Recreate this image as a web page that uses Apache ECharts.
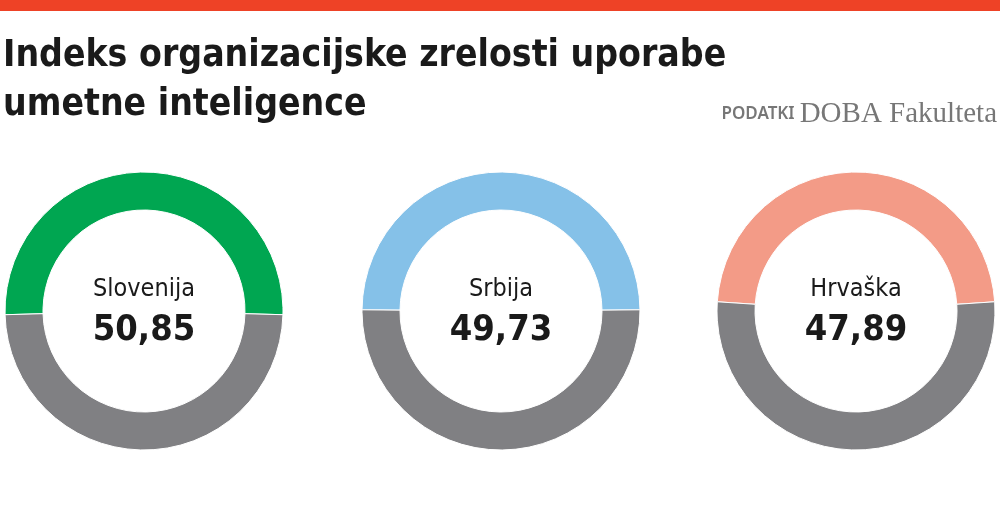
<!DOCTYPE html>
<html>
<head>
<meta charset="utf-8">
<script src="https://cdn.jsdelivr.net/npm/echarts@6/dist/echarts.min.js"></script>
<style>
  html, body { margin: 0; padding: 0; background: #fff; }
  #chart { width: 1000px; height: 520px; }
</style>
</head>
<body>
<div id="chart"></div>
<script>
const countries = ['Slovenija', 'Srbija', 'Hrvaška']
const values = [50.85, 49.73, 47.89]
const colors = ['#00a651', '#85c1e8', '#f39b87']
const centersX = [144, 501, 856]

const narrow = "'Liberation Sans Narrow', 'DejaVu Sans Condensed', sans-serif"

const chart = echarts.init(document.getElementById('chart'))

const series = countries.map((name, i) => ({
  type: 'pie',
  center: [centersX[i], 311],
  radius: [101, 139],
  startAngle: 90 + values[i] * 3.6 / 2,
  clockwise: true,
  silent: true,
  animation: false,
  itemStyle: { borderColor: '#fff', borderWidth: 1 },
  labelLine: { show: false },
  data: [
    {
      name: name,
      value: values[i],
      itemStyle: { color: colors[i] },
      label: {
        show: true,
        position: 'center',
        formatter: () => `{n|${name}}\n{v|${values[i].toFixed(2).replace('.', ',')}}`,
        rich: {
          n: { fontFamily: narrow, fontSize: 25, color: '#1a1a1a', lineHeight: 40 },
          v: { fontFamily: narrow, fontSize: 36, fontWeight: 'bold', color: '#1a1a1a', lineHeight: 44 }
        }
      }
    },
    {
      name: 'ostalo',
      value: 100 - values[i],
      itemStyle: { color: '#808083' },
      label: { show: false }
    }
  ]
}))

const option = {
  backgroundColor: '#fff',
  title: [
    {
      text: 'Indeks organizacijske zrelosti uporabe\numetne inteligence',
      left: 3,
      top: 32,
      padding: 0,
      textStyle: { fontFamily: narrow, fontSize: 37, fontWeight: 'bold', color: '#1a1a1a', lineHeight: 49 }
    },
    {
      text: '{a|PODATKI} {b|DOBA Fakulteta}',
      right: 3,
      top: 99,
      padding: 0,
      textStyle: {
        rich: {
          a: { fontFamily: "'Noto Sans', sans-serif", fontSize: 17, color: '#777777', fontWeight: 600, lineHeight: 30 },
          b: { fontFamily: "'Liberation Serif', serif", fontSize: 29, color: '#777777', fontWeight: 'normal', lineHeight: 30 }
        }
      }
    }
  ],
  graphic: [
    { type: 'rect', shape: { x: 0, y: 0, width: 1000, height: 11 }, style: { fill: '#ee4226' } }
  ],
  series: series
}

chart.setOption(option)
</script>
</body>
</html>
